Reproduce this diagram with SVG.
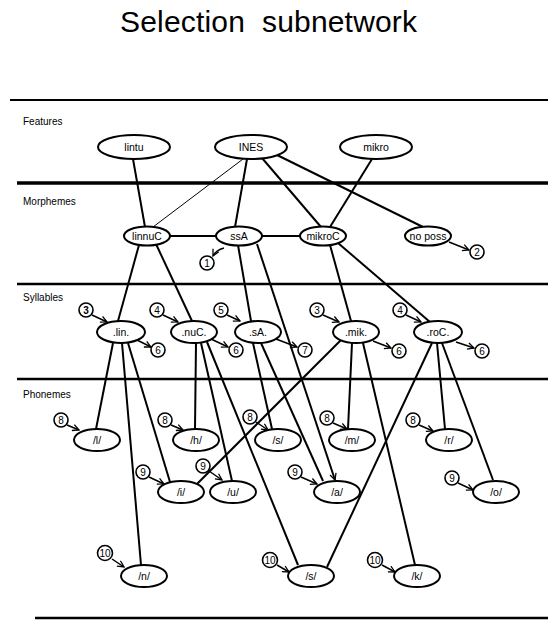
<svg xmlns="http://www.w3.org/2000/svg" width="560" height="631" viewBox="0 0 560 631">
<style>
text{font-family:"Liberation Sans",Arial,sans-serif;fill:#000}
.title{font-size:30px}
.lvl{font-size:10px}
.n ellipse{fill:#fff;stroke:#000;stroke-width:2}
.n text{font-size:10.5px;text-anchor:middle}
.c circle{fill:#fff;stroke:#000;stroke-width:1.6}
.c text{font-size:10px;text-anchor:middle}
.rule{stroke:#000;fill:none}
.e line,.e path{stroke:#000;stroke-width:2;fill:none}
.e .thin{stroke-width:1}
.e .a{stroke-width:1.5;marker-end:url(#ah)}
</style>
<defs>
<marker id="ah" viewBox="0 0 10 10" refX="9" refY="5" markerWidth="8" markerHeight="8" orient="auto" markerUnits="userSpaceOnUse">
<path d="M1,1 L9,5 L1,9" fill="none" stroke="#000" stroke-width="1.6"/>
</marker>
</defs>
<rect width="560" height="631" fill="#fff"/>
<text class="title" x="120" y="32" textLength="297" xml:space="preserve">Selection  subnetwork</text>
<g id="rules">
<line class="rule" x1="10" y1="100" x2="548" y2="100" stroke-width="2"/>
<line class="rule" x1="17" y1="183" x2="548" y2="183" stroke-width="3.5"/>
<line class="rule" x1="17" y1="284" x2="548" y2="284" stroke-width="2.5"/>
<line class="rule" x1="17" y1="379" x2="548" y2="379" stroke-width="2.5"/>
<line class="rule" x1="35" y1="618" x2="548" y2="618" stroke-width="2.5"/>
</g>
<g id="levels">
<text class="lvl" x="23" y="125">Features</text>
<text class="lvl" x="23" y="205">Morphemes</text>
<text class="lvl" x="23" y="301">Syllables</text>
<text class="lvl" x="23" y="398">Phonemes</text>
</g>
<g id="connectors" class="e">
<line x1="133" y1="159" x2="145" y2="227"/>
<line class="thin" x1="243" y1="159" x2="153" y2="227"/>
<line x1="247" y1="159" x2="235" y2="227"/>
<line x1="262" y1="158" x2="321" y2="227"/>
<line x1="277" y1="155" x2="423" y2="227"/>
<line x1="372" y1="159" x2="330" y2="227"/>
<line x1="170" y1="236" x2="216" y2="236"/>
<line x1="262" y1="236" x2="300" y2="236"/>
<line x1="139" y1="245" x2="118" y2="321"/>
<line x1="156" y1="244" x2="192" y2="321"/>
<line x1="238" y1="245" x2="251" y2="321"/>
<line x1="330" y1="245" x2="351" y2="321"/>
<line x1="338" y1="243" x2="430" y2="322"/>
<line x1="257" y1="244" x2="335" y2="480" marker-end="url(#ah)"/>
<line x1="113" y1="343" x2="96" y2="429"/>
<line x1="122" y1="343" x2="141" y2="565"/>
<line x1="128" y1="343" x2="170" y2="482"/>
<line x1="196" y1="343" x2="195" y2="429"/>
<line x1="201" y1="343" x2="232" y2="481"/>
<line x1="207" y1="342" x2="298" y2="565"/>
<line x1="253" y1="343" x2="272" y2="429"/>
<line x1="261" y1="343" x2="323" y2="481"/>
<line x1="352" y1="343" x2="348" y2="429"/>
<line x1="363" y1="343" x2="415" y2="565"/>
<line x1="341" y1="340" x2="197" y2="484"/>
<line x1="437" y1="343" x2="445" y2="429"/>
<line x1="442" y1="343" x2="493" y2="480"/>
<line x1="432" y1="343" x2="327" y2="567"/>
<path class="a" d="M224,248 Q216,250 213,256"/>
<line class="a" x1="449" y1="242" x2="469" y2="250"/>
<line class="a" x1="92" y1="315" x2="107" y2="322"/>
<line class="a" x1="163" y1="315" x2="178" y2="322"/>
<line class="a" x1="227" y1="315" x2="240" y2="321"/>
<line class="a" x1="323" y1="315" x2="339" y2="322"/>
<line class="a" x1="406" y1="315" x2="421" y2="322"/>
<line class="a" x1="137" y1="340" x2="151" y2="347"/>
<line class="a" x1="211" y1="339" x2="228" y2="347"/>
<line class="a" x1="276" y1="339" x2="297" y2="347"/>
<line class="a" x1="373" y1="341" x2="391" y2="348"/>
<line class="a" x1="456" y1="342" x2="474" y2="348"/>
<line class="a" x1="67" y1="425" x2="79" y2="430"/>
<line class="a" x1="171" y1="425" x2="183" y2="430"/>
<line class="a" x1="256" y1="422" x2="268" y2="430"/>
<line class="a" x1="333" y1="423" x2="347" y2="429"/>
<line class="a" x1="419" y1="425" x2="433" y2="431"/>
<line class="a" x1="149" y1="477" x2="164" y2="484"/>
<line class="a" x1="209" y1="471" x2="222" y2="480"/>
<line class="a" x1="301" y1="477" x2="317" y2="484"/>
<line class="a" x1="458" y1="483" x2="473" y2="490"/>
<line class="a" x1="112" y1="559" x2="124" y2="567"/>
<line class="a" x1="277" y1="565" x2="289" y2="572"/>
<line class="a" x1="382" y1="565" x2="395" y2="572"/>
</g>
<g id="n-lintu" class="n"><ellipse cx="134" cy="147" rx="36" ry="12"/><text x="134" y="151">lintu</text></g>
<g id="n-INES" class="n"><ellipse cx="251" cy="147" rx="36" ry="12"/><text x="251" y="151">INES</text></g>
<g id="n-mikro" class="n"><ellipse cx="376" cy="147" rx="36" ry="12"/><text x="376" y="151">mikro</text></g>
<g id="n-linnuC" class="n"><ellipse cx="147" cy="236" rx="23" ry="9.5"/><text x="147" y="240">linnuC</text></g>
<g id="n-ssA" class="n"><ellipse cx="239" cy="236" rx="23" ry="9.5"/><text x="239" y="240">ssA</text></g>
<g id="n-mikroC" class="n"><ellipse cx="323" cy="236" rx="23" ry="9.5"/><text x="323" y="240">mikroC</text></g>
<g id="n-noposs" class="n"><ellipse cx="428" cy="236" rx="23" ry="9.5"/><text x="428" y="240">no poss</text></g>
<g id="n-lin" class="n"><ellipse cx="121" cy="332" rx="24" ry="11"/><text x="121" y="336">.lin.</text></g>
<g id="n-nuC" class="n"><ellipse cx="194" cy="332" rx="23" ry="11"/><text x="194" y="336">.nuC.</text></g>
<g id="n-sA" class="n"><ellipse cx="258" cy="332" rx="23" ry="11"/><text x="258" y="336">.sA.</text></g>
<g id="n-mik" class="n"><ellipse cx="356" cy="332" rx="23" ry="11"/><text x="356" y="336">.mik.</text></g>
<g id="n-roC" class="n"><ellipse cx="438" cy="332" rx="24" ry="11"/><text x="438" y="336">.roC.</text></g>
<g id="n-l" class="n"><ellipse cx="97" cy="440" rx="23" ry="11"/><text x="97" y="444">/l/</text></g>
<g id="n-h" class="n"><ellipse cx="196" cy="440" rx="23" ry="11"/><text x="196" y="444">/h/</text></g>
<g id="n-s1" class="n"><ellipse cx="278" cy="440" rx="23" ry="11"/><text x="278" y="444">/s/</text></g>
<g id="n-m" class="n"><ellipse cx="352" cy="440" rx="23" ry="11"/><text x="352" y="444">/m/</text></g>
<g id="n-r" class="n"><ellipse cx="449" cy="440" rx="23" ry="11"/><text x="449" y="444">/r/</text></g>
<g id="n-i" class="n"><ellipse cx="181" cy="492" rx="23" ry="11"/><text x="181" y="496">/i/</text></g>
<g id="n-u" class="n"><ellipse cx="233" cy="492" rx="23" ry="11"/><text x="233" y="496">/u/</text></g>
<g id="n-a" class="n"><ellipse cx="337" cy="492" rx="23" ry="11"/><text x="337" y="496">/a/</text></g>
<g id="n-o" class="n"><ellipse cx="496" cy="492" rx="23" ry="11"/><text x="496" y="496">/o/</text></g>
<g id="n-n" class="n"><ellipse cx="144" cy="576" rx="23" ry="11"/><text x="144" y="580">/n/</text></g>
<g id="n-s3" class="n"><ellipse cx="311" cy="576" rx="23" ry="11"/><text x="311" y="580">/s/</text></g>
<g id="n-k" class="n"><ellipse cx="417" cy="576" rx="23" ry="11"/><text x="417" y="580">/k/</text></g>
<g id="c-1" class="c"><circle cx="207" cy="263" r="7"/><text x="207" y="267">1</text></g>
<g id="c-2" class="c"><circle cx="477" cy="252" r="7"/><text x="477" y="256">2</text></g>
<g id="c-3a" class="c"><circle cx="86" cy="310" r="7" stroke-width="2.6"/><text x="86" y="314" font-weight="bold">3</text></g>
<g id="c-4a" class="c"><circle cx="157" cy="310" r="7"/><text x="157" y="314">4</text></g>
<g id="c-5" class="c"><circle cx="221" cy="310" r="7"/><text x="221" y="314">5</text></g>
<g id="c-3b" class="c"><circle cx="317" cy="310" r="7"/><text x="317" y="314">3</text></g>
<g id="c-4b" class="c"><circle cx="400" cy="310" r="7"/><text x="400" y="314">4</text></g>
<g id="c-6a" class="c"><circle cx="158" cy="350" r="7"/><text x="158" y="354">6</text></g>
<g id="c-6b" class="c"><circle cx="236" cy="350" r="7"/><text x="236" y="354">6</text></g>
<g id="c-7" class="c"><circle cx="305" cy="350" r="7"/><text x="305" y="354">7</text></g>
<g id="c-6c" class="c"><circle cx="399" cy="351" r="7"/><text x="399" y="355">6</text></g>
<g id="c-6d" class="c"><circle cx="482" cy="351" r="7"/><text x="482" y="355">6</text></g>
<g id="c-8a" class="c"><circle cx="61" cy="420" r="7"/><text x="61" y="424">8</text></g>
<g id="c-8b" class="c"><circle cx="165" cy="420" r="7"/><text x="165" y="424">8</text></g>
<g id="c-8c" class="c"><circle cx="250" cy="417" r="7"/><text x="250" y="421">8</text></g>
<g id="c-8d" class="c"><circle cx="327" cy="418" r="7"/><text x="327" y="422">8</text></g>
<g id="c-8e" class="c"><circle cx="413" cy="420" r="7"/><text x="413" y="424">8</text></g>
<g id="c-9a" class="c"><circle cx="143" cy="472" r="7"/><text x="143" y="476">9</text></g>
<g id="c-9b" class="c"><circle cx="203" cy="466" r="7"/><text x="203" y="470">9</text></g>
<g id="c-9c" class="c"><circle cx="295" cy="472" r="7"/><text x="295" y="476">9</text></g>
<g id="c-9d" class="c"><circle cx="452" cy="478" r="7"/><text x="452" y="482">9</text></g>
<g id="c-10a" class="c"><circle cx="105" cy="553" r="7.5"/><text x="105" y="557">10</text></g>
<g id="c-10b" class="c"><circle cx="270" cy="560" r="7.5"/><text x="270" y="564">10</text></g>
<g id="c-10c" class="c"><circle cx="375" cy="560" r="7.5"/><text x="375" y="564">10</text></g>
</svg>
